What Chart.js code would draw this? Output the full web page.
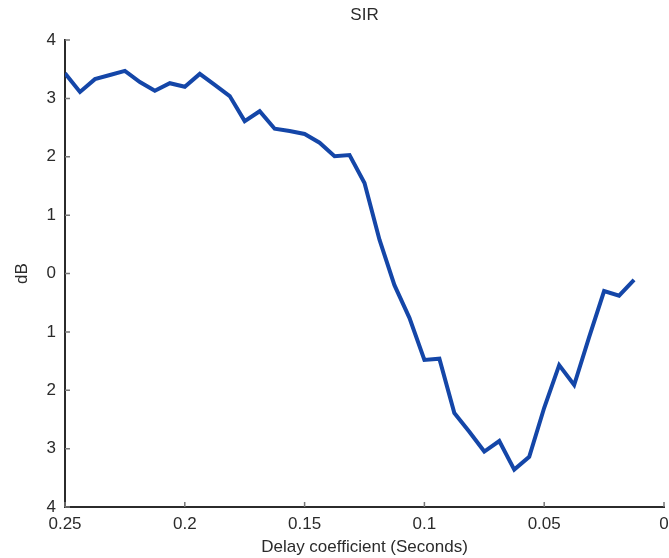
<!DOCTYPE html>
<html>
<head>
<meta charset="utf-8">
<script src="https://cdn.jsdelivr.net/npm/chart.js@4/dist/chart.umd.min.js"></script>
<style>
  html, body { margin: 0; padding: 0; background: #ffffff; }
  #wrap { width: 669px; height: 558px; }
</style>
</head>
<body>
<div id="wrap"><canvas id="c" width="669" height="558"></canvas></div>
<script>
// Delay coefficient (seconds) for each measurement
const delays = [0.25, 0.24375, 0.2375, 0.23125, 0.225, 0.21875, 0.2125, 0.20625, 0.2,
  0.19375, 0.1875, 0.18125, 0.175, 0.16875, 0.1625, 0.15625, 0.15, 0.14375, 0.1375,
  0.13125, 0.125, 0.11875, 0.1125, 0.10625, 0.1, 0.09375, 0.0875, 0.08125, 0.075,
  0.06875, 0.0625, 0.05625, 0.05, 0.04375, 0.0375, 0.03125, 0.025, 0.01875, 0.0125];

// Signal-to-interference ratio (dB)
const sirDb = [3.43, 3.11, 3.33, 3.40, 3.47, 3.28, 3.13, 3.26, 3.20,
  3.42, 3.23, 3.04, 2.61, 2.78, 2.48, 2.44, 2.39, 2.24, 2.01,
  2.03, 1.55, 0.58, -0.20, -0.76, -1.48, -1.46, -2.39, -2.71, -3.05,
  -2.87, -3.36, -3.14, -2.30, -1.57, -1.91, -1.09, -0.30, -0.38, -0.11];

// Axis tick labels as printed
const xTickLabels = ['0', '0.05', '0.1', '0.15', '0.2', '0.25'];
const yTickLabels = ['4', '3', '2', '1', '0', '1', '2', '3', '4'];

const FONT = { family: '"Liberation Sans", Arial, Helvetica, sans-serif', size: 17 };
const INK = '#2b2b2b';

// Title centred over the plot area
const titlePlugin = {
  id: 'plotTitle',
  afterDraw(chart) {
    const { ctx, chartArea } = chart;
    ctx.save();
    ctx.font = FONT.size + 'px ' + FONT.family;
    ctx.fillStyle = INK;
    ctx.textAlign = 'center';
    ctx.textBaseline = 'middle';
    ctx.fillText('SIR', (chartArea.left + chartArea.right) / 2, 15);
    ctx.restore();
  }
};

// Short tick marks pointing into the plot area
const innerTicks = {
  id: 'innerTicks',
  afterDraw(chart) {
    const { ctx, chartArea, scales } = chart;
    ctx.save();
    ctx.strokeStyle = '#777777';
    ctx.lineWidth = 1.5;
    ctx.beginPath();
    scales.y.ticks.forEach(t => {
      const py = scales.y.getPixelForValue(t.value);
      ctx.moveTo(chartArea.left, py);
      ctx.lineTo(chartArea.left + 5, py);
    });
    scales.x.ticks.forEach(t => {
      const px = scales.x.getPixelForValue(t.value);
      ctx.moveTo(px, chartArea.bottom);
      ctx.lineTo(px, chartArea.bottom - 5);
    });
    ctx.stroke();
    ctx.restore();
  }
};

new Chart(document.getElementById('c'), {
  type: 'line',
  data: {
    datasets: [{
      data: delays.map((d, i) => ({ x: d, y: sirDb[i] })),
      borderColor: '#1446a8',
      borderWidth: 4,
      pointRadius: 0,
      tension: 0,
      fill: false
    }]
  },
  options: {
    responsive: false,
    animation: false,
    layout: { padding: { top: 40, right: 0, left: 0, bottom: 0 } },
    plugins: { legend: { display: false }, tooltip: { enabled: false } },
    scales: {
      x: {
        type: 'linear',
        reverse: true,
        min: 0,
        max: 0.25,
        grid: { display: false, drawTicks: false },
        border: { display: true, color: INK, width: 2 },
        ticks: {
          stepSize: 0.05,
          padding: 7,
          color: INK,
          font: FONT,
          maxRotation: 0,
          callback: (v) => xTickLabels[Math.round(v / 0.05)]
        },
        title: {
          display: true,
          text: 'Delay coefficient (Seconds)',
          color: INK,
          font: FONT,
          padding: { top: 2, bottom: 0 }
        },
        afterFit(scale) {
          scale.height = 51;
          scale.paddingLeft = 0;
          scale.paddingRight = 5;
        }
      },
      y: {
        min: -4,
        max: 4,
        grid: { display: false, drawTicks: false },
        border: { display: true, color: INK, width: 2 },
        ticks: {
          stepSize: 1,
          padding: 9,
          color: INK,
          font: FONT,
          callback: (v) => yTickLabels[Math.round(v) + 4]
        },
        title: {
          display: true,
          text: 'dB',
          color: INK,
          font: FONT,
          padding: { top: 12, bottom: 0 }
        },
        afterFit(scale) { scale.width = 65; }
      }
    }
  },
  plugins: [titlePlugin, innerTicks]
});
</script>
</body>
</html>
